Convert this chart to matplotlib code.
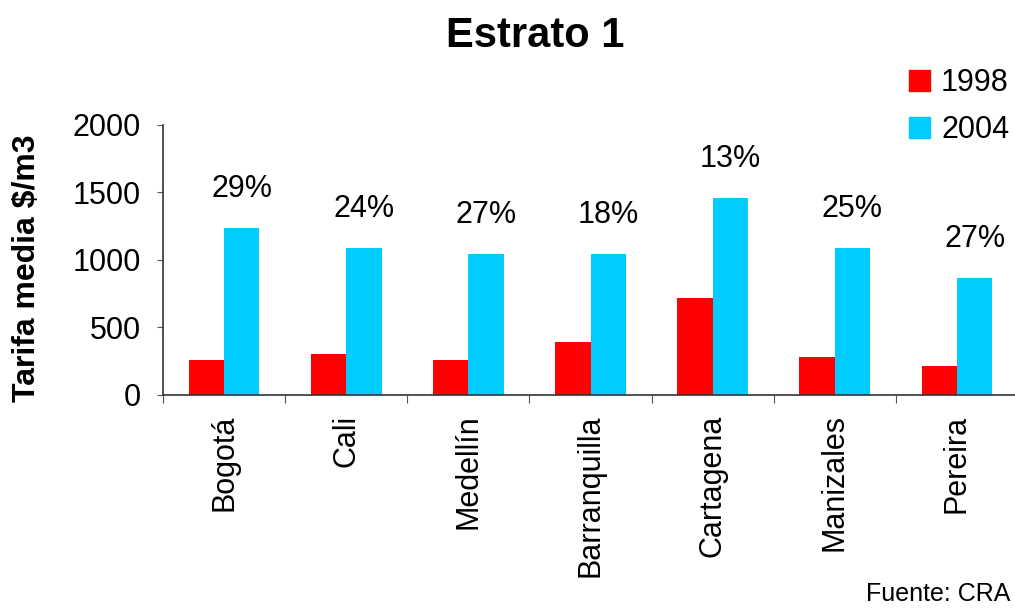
import matplotlib
matplotlib.use("Agg")
import matplotlib.pyplot as plt
import numpy as np
from matplotlib.patches import Patch

plt.rcParams['font.family'] = ['Liberation Sans', 'DejaVu Sans']

cities = ["Bogotá", "Cali", "Medellín", "Barranquilla", "Cartagena", "Manizales", "Pereira"]
tarifa_1998 = [259, 303, 259, 392, 718, 281, 215]
tarifa_2004 = [1236, 1088, 1043, 1043, 1458, 1088, 866]
pct_labels = ["29%", "24%", "27%", "18%", "13%", "25%", "27%"]
series_names = ["1998", "2004"]
yticks = [0, 500, 1000, 1500, 2000]

RED = "#FF0000"
CYAN = "#00CCFF"

W, H = 1015, 608
fig = plt.figure(figsize=(W / 100, H / 100), dpi=100)
ax = fig.add_axes([163 / W, (H - 395) / H, 855 / W, 270.3 / H])

x = np.arange(len(cities))
bw = 0.29
ax.bar(x - bw / 2, tarifa_1998, width=bw, color=RED, label=series_names[0])
ax.bar(x + bw / 2, tarifa_2004, width=bw, color=CYAN, label=series_names[1])

for xi, v, lab in zip(x, tarifa_2004, pct_labels):
    ax.annotate(lab, (xi + bw / 2, v), xytext=(0, 28), textcoords="offset points",
                ha="center", va="center", fontsize=22)

ax.set_xlim(-0.5, len(cities) - 0.5)
ax.set_ylim(0, 2000)
ax.set_yticks(yticks)
ax.tick_params(axis="y", labelsize=22, length=4, pad=12, color="#555555")

ax.set_xticks(np.arange(len(cities) + 1) - 0.5)
ax.set_xticklabels([])
ax.tick_params(axis="x", which="major", length=6, color="#555555")
ax.set_xticks(x, minor=True)
ax.set_xticklabels(cities, minor=True, rotation=90, fontsize=22)
ax.tick_params(axis="x", which="minor", length=0, pad=14)

for s in ["top", "right"]:
    ax.spines[s].set_visible(False)
for s in ["left", "bottom"]:
    ax.spines[s].set_color("#333333")
    ax.spines[s].set_linewidth(1.2)

ax.set_ylabel("Tarifa media $/m3", fontsize=23, fontweight="bold")
ax.yaxis.set_label_coords(-0.1415, 0.47)

fig.text(535 / W, (H - 47) / H, "Estrato 1", fontsize=30, fontweight="bold",
         ha="center", va="baseline")

handles = [Patch(color=RED, label=series_names[0]), Patch(color=CYAN, label=series_names[1])]
fig.legend(handles=handles, loc="upper left", bbox_to_anchor=(909 / W, (H - 68) / H),
           frameon=False, fontsize=22, handlelength=0.7, handleheight=0.7,
           handletextpad=0.35, labelspacing=0.56, borderpad=0, borderaxespad=0)

fig.text(1010 / W, (H - 601) / H, "Fuente: CRA", fontsize=18, ha="right", va="baseline")

fig.savefig("out.png", dpi=100)
